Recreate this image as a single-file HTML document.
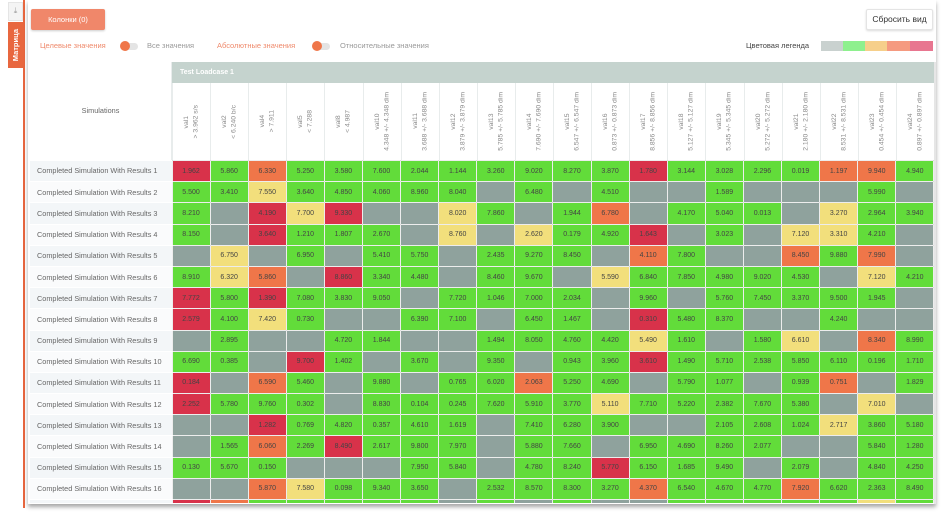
<!DOCTYPE html>
<html><head><meta charset="utf-8">
<style>
*{margin:0;padding:0;box-sizing:border-box}
body{width:948px;height:516px;overflow:hidden;background:#fff;font-family:"Liberation Sans","DejaVu Sans",sans-serif;position:relative}
.abs{position:absolute}
.card{position:absolute;left:28px;top:0;width:908px;height:504px;background:#fff;box-shadow:0 3px 4px rgba(0,0,0,.35)}
table{border-collapse:collapse;table-layout:fixed;position:absolute;left:30px;top:158px;width:904px}
td{height:21.2px;font-size:7px;color:#444;text-align:center;border:1px solid rgba(0,0,0,.07);padding:0;overflow:hidden;white-space:nowrap}
td.n{text-align:left;padding-left:7px;font-size:7.3px;color:#666;border:none;border-bottom:1px solid #fff}
tr:nth-child(odd) td.n{background:#f3f6f8}
tr:nth-child(even) td.n{background:#fafbfc}
.g{background:#62dc3a}.e{background:#8fa29d}.r{background:#d8324a}.o{background:#ef7649}.y{background:#f2df7c}
.hc{position:absolute;top:83px;height:77px;width:38.1px;border-left:1px solid #e8ecec;display:flex;align-items:center;justify-content:center}
.hc span{writing-mode:vertical-rl;transform:rotate(180deg);font-size:6.8px;color:#888;text-align:center;line-height:9.5px;white-space:nowrap}
</style></head><body>
<div class="abs" style="left:8px;top:2px;width:15px;height:19px;background:#f4f4f4;border:1px solid #e5e5e5;color:#999;font-size:8px;text-align:center;line-height:16px">⤓</div>
<div class="abs" style="left:8px;top:22px;width:15px;height:46px;background:#e8673f;display:flex;align-items:center;justify-content:center"><span style="writing-mode:vertical-rl;transform:rotate(180deg);color:#fff;font-size:7.5px;font-weight:bold">Матрица</span></div>
<div class="abs" style="left:23px;top:0;width:2px;height:508px;background:#e8673f"></div>
<div class="card"></div>
<div class="abs" style="left:31px;top:9px;width:74px;height:21px;background:#f0876a;border-radius:2px;color:#fff;font-size:7.5px;line-height:21px;text-align:center;box-shadow:0 1px 2px rgba(0,0,0,.2)">Колонки (0)</div>
<div class="abs" style="left:866px;top:9px;width:67px;height:21px;background:#fff;border:1px solid #e4e4e4;border-radius:2px;color:#333;font-size:8.5px;line-height:19px;text-align:center;box-shadow:0 1px 2px rgba(0,0,0,.15)">Сбросить вид</div>
<div class="abs" style="left:40px;top:41px;font-size:7.5px;color:#ef8a6c">Целевые значения</div>
<div class="abs" style="left:122px;top:43px;width:16px;height:7px;border-radius:4px;background:#e4e4e4"></div>
<div class="abs" style="left:120px;top:41px;width:10px;height:10px;border-radius:5px;background:#ef7649"></div>
<div class="abs" style="left:147px;top:41px;font-size:7.5px;color:#999">Все значения</div>
<div class="abs" style="left:217px;top:41px;font-size:7.5px;color:#ef8a6c">Абсолютные значения</div>
<div class="abs" style="left:314px;top:43px;width:16px;height:7px;border-radius:4px;background:#e4e4e4"></div>
<div class="abs" style="left:312px;top:41px;width:10px;height:10px;border-radius:5px;background:#ef7649"></div>
<div class="abs" style="left:340px;top:41px;font-size:7.5px;color:#999">Относительные значения</div>
<div class="abs" style="left:746px;top:41px;font-size:7.5px;color:#444">Цветовая легенда</div>
<div class="abs" style="left:821px;top:41px;width:22px;height:10px;background:#c9d1cf"></div>
<div class="abs" style="left:843px;top:41px;width:22px;height:10px;background:#8ef08e"></div>
<div class="abs" style="left:865px;top:41px;width:22px;height:10px;background:#f6cf8a"></div>
<div class="abs" style="left:887px;top:41px;width:23px;height:10px;background:#f59a80"></div>
<div class="abs" style="left:910px;top:41px;width:23px;height:10px;background:#e87690"></div>
<div class="abs" style="left:30px;top:62px;width:142px;height:98px;background:#fff;border-right:1px solid #e8ecec;font-size:7.3px;color:#666;text-align:center;line-height:98px">Simulations</div>
<div class="abs" style="left:172px;top:62px;width:762px;height:21px;background:#c5d3ce;color:#fff;font-size:7px;font-weight:bold;line-height:21px;padding-left:8px">Test Loadcase 1</div>
<div class="hc" style="left:172px"><span>val1<br>&gt; 3.962 s/s</span></div>
<div class="hc" style="left:210.1px"><span>val2<br>&lt; 6.240 b/c</span></div>
<div class="hc" style="left:248.2px"><span>val4<br>&gt; 7.911</span></div>
<div class="hc" style="left:286.3px"><span>val5<br>&lt; 7.288</span></div>
<div class="hc" style="left:324.4px"><span>val8<br>&lt; 4.987</span></div>
<div class="hc" style="left:362.5px"><span>val10<br>4.348 +/- 4.348 dim</span></div>
<div class="hc" style="left:400.6px"><span>val11<br>3.688 +/- 3.688 dim</span></div>
<div class="hc" style="left:438.7px"><span>val12<br>3.879 +/- 3.879 dim</span></div>
<div class="hc" style="left:476.8px"><span>val13<br>5.785 +/- 5.785 dim</span></div>
<div class="hc" style="left:514.9px"><span>val14<br>7.690 +/- 7.690 dim</span></div>
<div class="hc" style="left:553px"><span>val15<br>6.547 +/- 6.547 dim</span></div>
<div class="hc" style="left:591.1px"><span>val16<br>0.873 +/- 0.873 dim</span></div>
<div class="hc" style="left:629.2px"><span>val17<br>8.856 +/- 8.856 dim</span></div>
<div class="hc" style="left:667.3px"><span>val18<br>5.127 +/- 5.127 dim</span></div>
<div class="hc" style="left:705.4px"><span>val19<br>5.345 +/- 5.345 dim</span></div>
<div class="hc" style="left:743.5px"><span>val20<br>5.272 +/- 5.272 dim</span></div>
<div class="hc" style="left:781.6px"><span>val21<br>2.180 +/- 2.180 dim</span></div>
<div class="hc" style="left:819.7px"><span>val22<br>8.531 +/- 8.531 dim</span></div>
<div class="hc" style="left:857.8px"><span>val23<br>0.454 +/- 0.454 dim</span></div>
<div class="hc" style="left:895.9px"><span>val24<br>0.897 +/- 0.897 dim</span></div>
<div class="abs" style="left:934px;top:62px;width:2px;height:442px;background:#e6e6e6"></div>
<div class="abs" style="left:30px;top:160px;width:904px;height:343px;overflow:hidden">
<table style="left:0;top:0">
<colgroup><col style="width:142px"><col span="20" style="width:38.1px"></colgroup>
<tr><td class="n">Completed Simulation With Results 1</td><td class="r">1.962</td><td class="g">5.860</td><td class="o">6.330</td><td class="g">5.250</td><td class="g">3.580</td><td class="g">7.600</td><td class="g">2.044</td><td class="g">1.144</td><td class="g">3.260</td><td class="g">9.020</td><td class="g">8.270</td><td class="g">3.870</td><td class="r">1.780</td><td class="g">3.144</td><td class="g">3.028</td><td class="g">2.296</td><td class="g">0.019</td><td class="o">1.197</td><td class="o">9.940</td><td class="g">4.940</td></tr>
<tr><td class="n">Completed Simulation With Results 2</td><td class="g">5.500</td><td class="g">3.410</td><td class="y">7.550</td><td class="g">3.640</td><td class="g">4.850</td><td class="g">4.060</td><td class="g">8.960</td><td class="g">8.040</td><td class="e"></td><td class="g">6.480</td><td class="e"></td><td class="g">4.510</td><td class="e"></td><td class="e"></td><td class="g">1.589</td><td class="e"></td><td class="e"></td><td class="e"></td><td class="g">5.990</td><td class="e"></td></tr>
<tr><td class="n">Completed Simulation With Results 3</td><td class="g">8.210</td><td class="e"></td><td class="r">4.190</td><td class="y">7.700</td><td class="r">9.330</td><td class="e"></td><td class="e"></td><td class="y">8.020</td><td class="g">7.860</td><td class="e"></td><td class="g">1.944</td><td class="o">6.780</td><td class="e"></td><td class="g">4.170</td><td class="g">5.040</td><td class="g">0.013</td><td class="e"></td><td class="y">3.270</td><td class="g">2.964</td><td class="g">3.940</td></tr>
<tr><td class="n">Completed Simulation With Results 4</td><td class="g">8.150</td><td class="e"></td><td class="r">3.640</td><td class="g">1.210</td><td class="g">1.807</td><td class="g">2.670</td><td class="e"></td><td class="y">8.760</td><td class="e"></td><td class="y">2.620</td><td class="g">0.179</td><td class="g">4.920</td><td class="r">1.643</td><td class="e"></td><td class="g">3.023</td><td class="e"></td><td class="y">7.120</td><td class="y">3.310</td><td class="g">4.210</td><td class="e"></td></tr>
<tr><td class="n">Completed Simulation With Results 5</td><td class="e"></td><td class="y">6.750</td><td class="e"></td><td class="g">6.950</td><td class="e"></td><td class="g">5.410</td><td class="g">5.750</td><td class="e"></td><td class="g">2.435</td><td class="g">9.270</td><td class="g">8.450</td><td class="e"></td><td class="o">4.110</td><td class="g">7.800</td><td class="e"></td><td class="e"></td><td class="o">8.450</td><td class="g">9.880</td><td class="o">7.990</td><td class="e"></td></tr>
<tr><td class="n">Completed Simulation With Results 6</td><td class="g">8.910</td><td class="y">6.320</td><td class="o">5.860</td><td class="e"></td><td class="r">8.860</td><td class="g">3.340</td><td class="g">4.480</td><td class="e"></td><td class="g">8.460</td><td class="g">9.670</td><td class="e"></td><td class="y">5.590</td><td class="g">6.840</td><td class="g">7.850</td><td class="g">4.980</td><td class="g">9.020</td><td class="g">4.530</td><td class="e"></td><td class="y">7.120</td><td class="g">4.210</td></tr>
<tr><td class="n">Completed Simulation With Results 7</td><td class="r">7.772</td><td class="g">5.800</td><td class="r">1.390</td><td class="g">7.080</td><td class="g">3.830</td><td class="g">9.050</td><td class="e"></td><td class="g">7.720</td><td class="g">1.046</td><td class="g">7.000</td><td class="g">2.034</td><td class="e"></td><td class="g">9.960</td><td class="e"></td><td class="g">5.760</td><td class="g">7.450</td><td class="g">3.370</td><td class="g">9.500</td><td class="g">1.945</td><td class="e"></td></tr>
<tr><td class="n">Completed Simulation With Results 8</td><td class="r">2.579</td><td class="g">4.100</td><td class="y">7.420</td><td class="g">0.730</td><td class="e"></td><td class="e"></td><td class="g">6.390</td><td class="g">7.100</td><td class="e"></td><td class="g">6.450</td><td class="g">1.467</td><td class="e"></td><td class="r">0.310</td><td class="g">5.480</td><td class="g">8.370</td><td class="e"></td><td class="e"></td><td class="g">4.240</td><td class="e"></td><td class="e"></td></tr>
<tr><td class="n">Completed Simulation With Results 9</td><td class="e"></td><td class="g">2.895</td><td class="e"></td><td class="e"></td><td class="g">4.720</td><td class="g">1.844</td><td class="e"></td><td class="e"></td><td class="g">1.494</td><td class="g">8.050</td><td class="g">4.760</td><td class="g">4.420</td><td class="y">5.490</td><td class="g">1.610</td><td class="e"></td><td class="g">1.580</td><td class="y">6.610</td><td class="e"></td><td class="o">8.340</td><td class="g">8.990</td></tr>
<tr><td class="n">Completed Simulation With Results 10</td><td class="g">6.690</td><td class="g">0.385</td><td class="e"></td><td class="r">9.700</td><td class="g">1.402</td><td class="e"></td><td class="g">3.670</td><td class="e"></td><td class="g">9.350</td><td class="e"></td><td class="g">0.943</td><td class="g">3.960</td><td class="r">3.610</td><td class="g">1.490</td><td class="g">5.710</td><td class="g">2.538</td><td class="g">5.850</td><td class="g">6.110</td><td class="g">0.196</td><td class="g">1.710</td></tr>
<tr><td class="n">Completed Simulation With Results 11</td><td class="r">0.184</td><td class="e"></td><td class="o">6.590</td><td class="g">5.460</td><td class="e"></td><td class="g">9.880</td><td class="e"></td><td class="g">0.765</td><td class="g">6.020</td><td class="o">2.063</td><td class="g">5.250</td><td class="g">4.690</td><td class="e"></td><td class="g">5.790</td><td class="g">1.077</td><td class="e"></td><td class="g">0.939</td><td class="o">0.751</td><td class="e"></td><td class="g">1.829</td></tr>
<tr><td class="n">Completed Simulation With Results 12</td><td class="r">2.252</td><td class="g">5.780</td><td class="g">9.760</td><td class="g">0.302</td><td class="e"></td><td class="g">8.830</td><td class="g">0.104</td><td class="g">0.245</td><td class="g">7.620</td><td class="g">5.910</td><td class="g">3.770</td><td class="y">5.110</td><td class="g">7.710</td><td class="g">5.220</td><td class="g">2.382</td><td class="g">7.670</td><td class="g">5.380</td><td class="e"></td><td class="y">7.010</td><td class="e"></td></tr>
<tr><td class="n">Completed Simulation With Results 13</td><td class="e"></td><td class="e"></td><td class="r">1.282</td><td class="g">0.769</td><td class="g">4.820</td><td class="g">0.357</td><td class="g">4.610</td><td class="g">1.619</td><td class="e"></td><td class="g">7.410</td><td class="g">6.280</td><td class="g">3.900</td><td class="e"></td><td class="e"></td><td class="g">2.105</td><td class="g">2.608</td><td class="g">1.024</td><td class="y">2.717</td><td class="g">3.860</td><td class="g">5.180</td></tr>
<tr><td class="n">Completed Simulation With Results 14</td><td class="e"></td><td class="g">1.565</td><td class="o">6.060</td><td class="g">2.269</td><td class="r">8.490</td><td class="g">2.617</td><td class="g">9.800</td><td class="g">7.970</td><td class="e"></td><td class="g">5.880</td><td class="g">7.660</td><td class="e"></td><td class="g">6.950</td><td class="g">4.690</td><td class="g">8.260</td><td class="g">2.077</td><td class="e"></td><td class="e"></td><td class="g">5.840</td><td class="g">1.280</td></tr>
<tr><td class="n">Completed Simulation With Results 15</td><td class="g">0.130</td><td class="g">5.670</td><td class="g">0.150</td><td class="e"></td><td class="e"></td><td class="e"></td><td class="g">7.950</td><td class="g">5.840</td><td class="e"></td><td class="g">4.780</td><td class="g">8.240</td><td class="r">5.770</td><td class="g">6.150</td><td class="g">1.685</td><td class="g">9.490</td><td class="e"></td><td class="g">2.079</td><td class="e"></td><td class="g">4.840</td><td class="g">4.250</td></tr>
<tr><td class="n">Completed Simulation With Results 16</td><td class="e"></td><td class="e"></td><td class="o">5.870</td><td class="y">7.580</td><td class="g">0.098</td><td class="g">9.340</td><td class="g">3.650</td><td class="e"></td><td class="g">2.532</td><td class="g">8.570</td><td class="g">8.300</td><td class="g">3.270</td><td class="o">4.370</td><td class="g">6.540</td><td class="g">4.670</td><td class="g">4.770</td><td class="o">7.920</td><td class="g">6.620</td><td class="g">2.363</td><td class="g">8.490</td></tr>
<tr><td class="n">Completed Simulation With Results 17</td><td class="r"></td><td class="o"></td><td class="g"></td><td class="g"></td><td class="g"></td><td class="g"></td><td class="g"></td><td class="e"></td><td class="g"></td><td class="e"></td><td class="g"></td><td class="e"></td><td class="e"></td><td class="g"></td><td class="g"></td><td class="g"></td><td class="g"></td><td class="g"></td><td class="y"></td><td class="g"></td></tr>
</table>
</div>
</body></html>
